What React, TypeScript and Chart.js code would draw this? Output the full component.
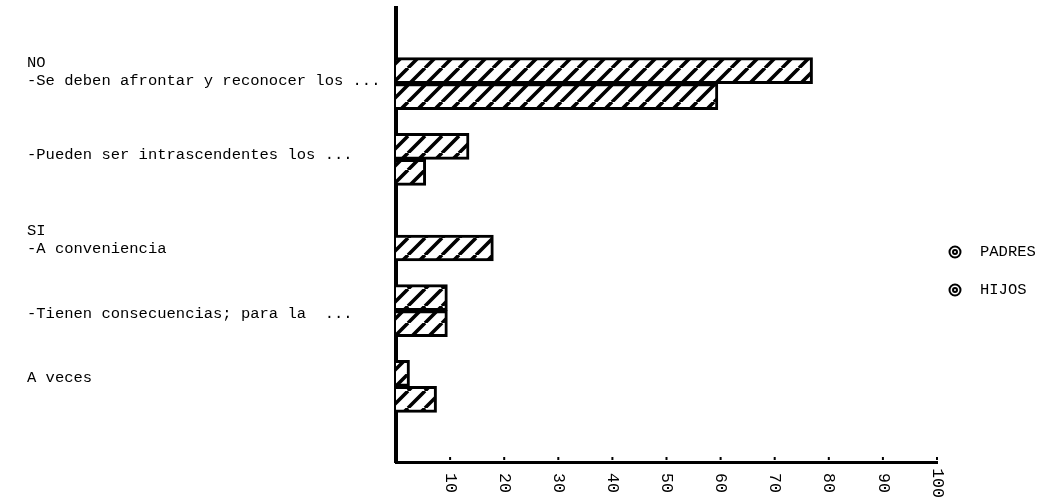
import React, { useEffect, useRef } from "react";
import { Chart, registerables } from "chart.js";

Chart.register(...registerables);

// ---------- data ----------
const CATEGORY_LINES: string[][] = [
  ["NO", "-Se deben afrontar y reconocer los ..."],
  ["-Pueden ser intrascendentes los ..."],
  ["SI", "-A conveniencia"],
  ["-Tienen consecuencias; para la  ..."],
  ["A veces"],
];
const PADRES = [77, 13.5, 0, 9.5, 2.5];
const HIJOS = [59.5, 5.5, 18, 9.5, 7.5];
const SERIES_NAMES = ["PADRES", "HIJOS"];
const X_MIN = 0;
const X_MAX = 100;
const X_STEP = 10;

// ---------- layout / style (not data) ----------
const W = 1041;
const H = 499;
const FONT = "15.5px 'Liberation Mono', 'DejaVu Sans Mono', monospace";
const TICK_FONT = "16.5px 'Liberation Mono', 'DejaVu Sans Mono', monospace";
const LABEL_X = 27;
const LABEL_FIRST_OFFSET = [-21, -4, -4, 3, -8];
const LABEL_LINE_GAP = [18, 0, 18, 0, 0];
const LEGEND_MARK_X = 955;
const LEGEND_TEXT_X = 980;
const LEGEND_Y = [252, 290];
const TICK_LABEL_Y = 483;

function makeHatch(): CanvasPattern | string {
  const s = 17;
  const c = document.createElement("canvas");
  c.width = s;
  c.height = s;
  const g = c.getContext("2d");
  if (!g) return "#fff";
  g.fillStyle = "#fff";
  g.fillRect(0, 0, s, s);
  g.strokeStyle = "#000";
  g.lineWidth = 3.6;
  g.beginPath();
  for (const k of [-s, 0, s]) {
    g.moveTo(k, s);
    g.lineTo(k + s, 0);
  }
  g.stroke();
  const pat = g.createPattern(c, "repeat");
  return pat || "#fff";
}

const decorPlugin = {
  id: "scanDecor",
  afterDraw(chart: any) {
    const ctx: CanvasRenderingContext2D = chart.ctx;
    const xs = chart.scales.x;
    const ys = chart.scales.y;
    const area = chart.chartArea;
    ctx.save();
    ctx.fillStyle = "#000";
    ctx.strokeStyle = "#000";

    // small tick dots on x axis + rotated (clockwise) tick labels
    ctx.font = TICK_FONT;
    xs.ticks.forEach((t: any) => {
      if (t.value === X_MIN) return;
      const px = xs.getPixelForValue(t.value);
      ctx.fillRect(px - 1, area.bottom - 5, 2, 3);
      ctx.save();
      ctx.translate(px, TICK_LABEL_Y);
      ctx.rotate(Math.PI / 2);
      ctx.textAlign = "center";
      ctx.textBaseline = "middle";
      ctx.fillText(String(t.value), 0, 0);
      ctx.restore();
    });

    // category labels (left aligned)
    ctx.font = FONT;
    ctx.textAlign = "left";
    ctx.textBaseline = "middle";
    const labels = ys.getLabels();
    labels.forEach((lab: any, i: number) => {
      if (!Array.isArray(lab)) return;
      const k = i - 1;
      const cy = ys.getPixelForValue(i);
      lab.forEach((line: string, j: number) => {
        ctx.fillText(line, LABEL_X, cy + LABEL_FIRST_OFFSET[k] + j * LABEL_LINE_GAP[k]);
      });
    });

    // legend
    SERIES_NAMES.forEach((name, i) => {
      const ly = LEGEND_Y[i];
      ctx.lineWidth = 2;
      ctx.beginPath();
      ctx.arc(LEGEND_MARK_X, ly, 5.5, 0, Math.PI * 2);
      ctx.stroke();
      ctx.beginPath();
      ctx.arc(LEGEND_MARK_X, ly, 2, 0, Math.PI * 2);
      ctx.stroke();
      ctx.fillText(name, LEGEND_TEXT_X, ly);
    });
    ctx.restore();
  },
};

export default function App() {
  const ref = useRef<HTMLCanvasElement | null>(null);

  useEffect(() => {
    if (!ref.current) return;
    const hatch = makeHatch();
    const labels: any[] = ["", ...CATEGORY_LINES, ""];
    const pad = (arr: number[]) => [null, ...arr, null];
    const chart = new Chart(ref.current, {
      type: "bar",
      data: {
        labels,
        datasets: [
          {
            label: SERIES_NAMES[0],
            data: pad(PADRES),
            backgroundColor: hatch as any,
            borderColor: "#000",
            borderWidth: 3,
            barThickness: 26,
          },
          {
            label: SERIES_NAMES[1],
            data: pad(HIJOS),
            backgroundColor: hatch as any,
            borderColor: "#000",
            borderWidth: 3,
            barThickness: 26,
          },
        ],
      },
      options: {
        responsive: false,
        animation: false,
        devicePixelRatio: 1,
        indexAxis: "y",
        layout: { padding: { left: 396, right: 104, top: 8, bottom: 37 } },
        plugins: { legend: { display: false }, tooltip: { enabled: false } },
        scales: {
          x: {
            type: "linear",
            min: X_MIN,
            max: X_MAX,
            ticks: { display: false, stepSize: X_STEP, padding: 0 },
            grid: { display: false, drawTicks: false, tickLength: 0 },
            border: { display: true, color: "#000", width: 3 },
            z: 1,
          },
          y: {
            type: "category",
            offset: false,
            ticks: { display: false, padding: 0 },
            grid: { display: false, drawTicks: false, tickLength: 0 },
            border: { display: true, color: "#000", width: 4 },
            z: 1,
          },
        },
      } as any,
      plugins: [decorPlugin],
    });
    return () => chart.destroy();
  }, []);

  return (
    <div style={{ position: "absolute", left: 0, top: 0, width: W, height: H, background: "#fff" }}>
      <canvas ref={ref} width={W} height={H} style={{ width: W, height: H, display: "block" }} />
    </div>
  );
}
